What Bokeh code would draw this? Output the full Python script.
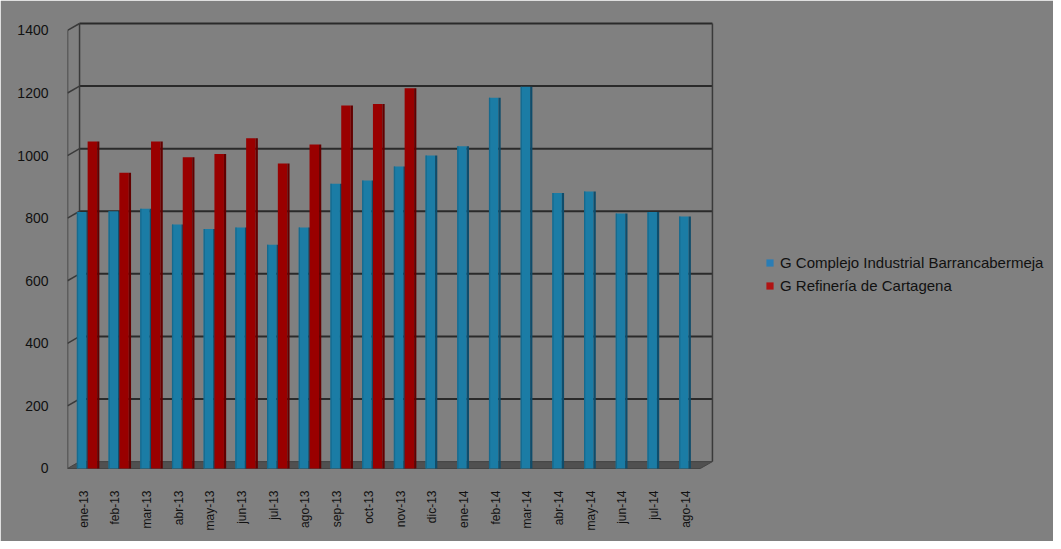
import numpy as np
from bokeh.plotting import figure
from bokeh.models import Range1d, FixedTicker, Legend, LegendItem
from bokeh.embed import file_html
from bokeh.resources import INLINE

categories = ["ene-13", "feb-13", "mar-13", "abr-13", "may-13", "jun-13", "jul-13",
              "ago-13", "sep-13", "oct-13", "nov-13", "dic-13", "ene-14", "feb-14",
              "mar-14", "abr-14", "may-14", "jun-14", "jul-14", "ago-14"]
barranca = [820, 822, 830, 780, 765, 770, 715, 770, 910, 920, 965, 1000, 1030,
            1185, 1220, 880, 885, 815, 820, 805]
cartagena = [1045, 945, 1045, 995, 1005, 1055, 975, 1035, 1160, 1165, 1215]
y_ticks = [0, 200, 400, 600, 800, 1000, 1200, 1400]
series_names = ["G Complejo Industrial Barrancabermeja", "G Refinería de Cartagena"]

BG = "#808080"
DEPTH_Y = 22      # 3D depth offset (value units)
DEPTH_X = 0.38    # 3D depth offset (category units)
X0 = -0.505
XN = len(categories) - 1 + 0.46
W, H = 1053, 541
LEFT, TOP, BOTTOM = 67, 18, 63
CAT_PX = 31.7

p = figure(width=W, height=H, output_backend="svg", toolbar_location=None,
           x_range=Range1d(X0, X0 + (W - LEFT) / CAT_PX), y_range=Range1d(-32, 1438),
           min_border_left=LEFT, min_border_top=TOP, min_border_bottom=BOTTOM, min_border_right=0)
p.background_fill_color = BG
p.border_fill_color = BG
p.outline_line_color = BG
p.outline_line_width = 2
p.grid.visible = False

xs = np.arange(len(categories))
xr = np.arange(len(cartagena))
yt = np.array(y_ticks[1:], dtype=float)

# floor
p.patch([X0, XN, XN + DEPTH_X, X0 + DEPTH_X], [0, 0, DEPTH_Y, DEPTH_Y],
        fill_color="#505050", line_color="#444444", line_width=1)
# back wall gridlines
p.segment(x0=X0 + DEPTH_X, x1=XN + DEPTH_X, y0=yt + DEPTH_Y, y1=yt + DEPTH_Y,
          line_color="#2a2a2a", line_width=2)
# back wall verticals
p.segment(x0=[X0 + DEPTH_X, XN + DEPTH_X], x1=[X0 + DEPTH_X, XN + DEPTH_X],
          y0=[DEPTH_Y, DEPTH_Y], y1=[y_ticks[-1] + DEPTH_Y] * 2,
          line_color="#3a3a3a", line_width=1.5)
# front axis line and slanted ticks
p.segment(x0=[X0], x1=[X0], y0=[0], y1=[y_ticks[-1]], line_color="#3a3a3a", line_width=1.5)
p.segment(x0=X0, x1=X0 + DEPTH_X, y0=yt, y1=yt + DEPTH_Y, line_color="#3a3a3a", line_width=1.5)

# bars: blue
p.vbar(x=xs - 0.06, width=0.30, top=barranca, bottom=0,
       fill_color="#1b7ca5", line_color=None)
p.vbar(x=xs + 0.125, width=0.07, top=barranca, bottom=0,
       fill_color="#0e4d6c", line_color=None)
p.vbar(x=xs - 0.19, width=0.04, top=barranca, bottom=0,
       fill_color="#166a8e", line_color=None)
# bars: red
p.vbar(x=xr + 0.28, width=0.30, top=cartagena, bottom=0,
       fill_color="#990000", line_color=None)
p.vbar(x=xr + 0.465, width=0.07, top=cartagena, bottom=0,
       fill_color="#620000", line_color=None)

# axes
p.xaxis.ticker = FixedTicker(ticks=list(xs))
p.xaxis.major_label_overrides = {int(i): c for i, c in zip(xs, categories)}
p.xaxis.major_label_orientation = np.pi / 2
p.xaxis.axis_line_color = None
p.xaxis.major_tick_line_color = None
p.xaxis.minor_tick_line_color = None
p.xaxis.major_label_standoff = 6
p.xaxis.major_label_text_font = "Liberation Sans"
p.xaxis.major_label_text_font_size = "12px"
p.xaxis.major_label_text_color = "#111111"

p.yaxis.ticker = FixedTicker(ticks=y_ticks)
p.yaxis.axis_line_color = None
p.yaxis.major_tick_line_color = None
p.yaxis.minor_tick_line_color = None
p.yaxis.major_label_standoff = 13
p.yaxis.major_label_text_font = "Liberation Sans"
p.yaxis.major_label_text_font_size = "14px"
p.yaxis.major_label_text_color = "#111111"

lb = p.rect(x=[0], y=[0], width=0, height=0, fill_color="#2a7db5", line_color=None, visible=False)
lr = p.rect(x=[0], y=[0], width=0, height=0, fill_color="#b01414", line_color=None, visible=False)
legend = Legend(items=[LegendItem(label=series_names[0], renderers=[lb]),
                       LegendItem(label=series_names[1], renderers=[lr])],
                location=(698, 183))
legend.background_fill_alpha = 0
legend.border_line_color = None
legend.padding = 0
legend.margin = 0
legend.glyph_width = 9
legend.glyph_height = 9
legend.label_height = 20
legend.spacing = 3
legend.label_standoff = 6
legend.label_text_font = "Liberation Sans"
legend.label_text_font_size = "15px"
legend.label_text_color = "#111111"
p.add_layout(legend, "center")

open("out.html", "w").write(file_html(p, INLINE))
